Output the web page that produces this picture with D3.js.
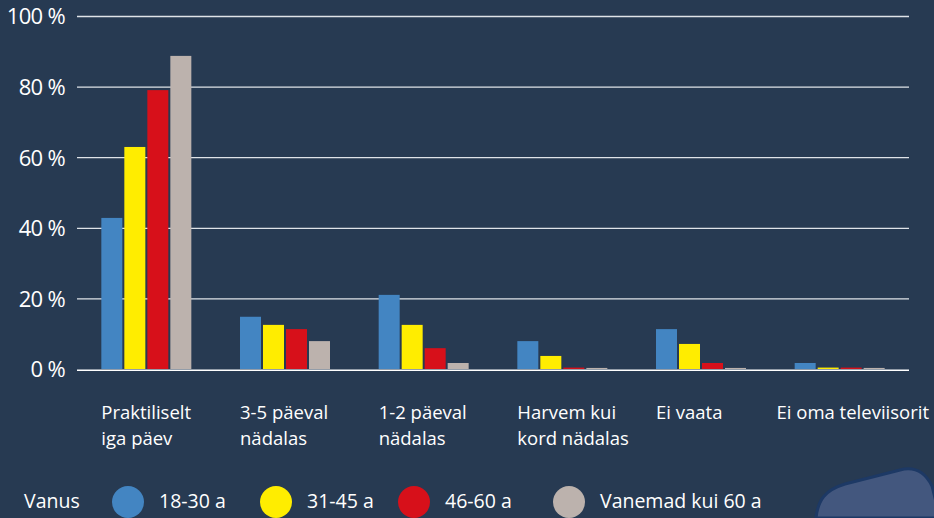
<!DOCTYPE html>
<html><head><meta charset="utf-8">
<script src="https://cdn.jsdelivr.net/npm/d3@7"></script>
<style>
html,body{margin:0;padding:0;background:#273a52;}
svg{display:block;}
text{font-family:"Open Sans","DejaVu Sans",sans-serif;fill:#ffffff;}
</style></head>
<body>
<svg id="chart" width="934" height="518"></svg>
<script>
const categories = [["Praktiliselt","iga päev"],["3-5 päeval","nädalas"],["1-2 päeval","nädalas"],["Harvem kui","kord nädalas"],["Ei vaata"],["Ei oma televiisorit"]];
const seriesNames = ["18-30 a","31-45 a","46-60 a","Vanemad kui 60 a"];
const colors = ["#4385c2","#ffed00","#d7101a","#bcb2ad"];
const s1830 = [42.8, 14.8, 21.0, 7.9, 11.3, 1.7];
const s3145 = [62.9, 12.5, 12.5, 3.7, 7.1, 0.4];
const s4660 = [79.0, 11.3, 5.9, 0.4, 1.7, 0.4];
const s60 = [88.7, 7.9, 1.7, 0.3, 0.3, 0.3];
const seriesValues = [s1830, s3145, s4660, s60];
const yTicks = [0,20,40,60,80,100];
const legendTitle = "Vanus";

(function(){
const svg = d3.select("#chart");
const pL = 77, pR = 909, pT = 16, pB = 369;
const x = d3.scaleBand().domain(d3.range(categories.length)).range([pL, pR]).paddingInner(0).paddingOuter(0);
const y = d3.scaleLinear().domain([0,100]).range([pB, pT]);
const barW = 21, gap = 2;
const groupW = seriesNames.length*barW + (seriesNames.length-1)*gap;
const xs = d3.scaleBand().domain(d3.range(seriesNames.length)).range([0, groupW]).paddingInner(gap/(barW+gap));

// decorative shape
svg.append("path")
  .attr("d","M 816 518 C 818 500, 825 490, 845 484 L 900 470 C 915 466, 925 472, 932 486 L 940 518 Z")
  .attr("fill","#43577e").attr("stroke","#1d3965").attr("stroke-width",3);

// gridlines
const yAxis = d3.axisLeft(y).tickValues(yTicks).tickSize(-(pR-pL)).tickFormat(d => d + " %");
const gy = svg.append("g").attr("transform",`translate(${pL},0)`).call(yAxis);
gy.select(".domain").remove();
gy.selectAll(".tick line").attr("stroke", d => d===0 ? "#ffffff" : "#dfe3e8").attr("stroke-width", d => d===0 ? 1.6 : 1.3)
  .attr("transform", d => d===0 ? "translate(0,0.8)" : null);
gy.selectAll(".tick text").attr("x",-12).attr("dy","0.36em")
  .style("font-size","22px").style("letter-spacing","-0.7px").attr("fill","#ffffff");

// bars
seriesValues.forEach((vals, si) => {
  svg.append("g").selectAll("rect").data(vals).join("rect")
    .attr("x",(d,i)=> x(i) + (x.bandwidth()-groupW)/2 + xs(si))
    .attr("width", xs.bandwidth())
    .attr("y", d => y(d))
    .attr("height", d => y(0)-y(d))
    .attr("fill", colors[si]);
});

// x labels
const xl = svg.append("g");
categories.forEach((lines,i) => {
  let x0 = x(i) + (x.bandwidth()-groupW)/2;
  const t = xl.append("text").attr("y",419).style("font-size","18.5px");
  lines.forEach((ln,k)=> t.append("tspan").attr("dy", k===0?0:26).text(ln));
  const w = t.node().getComputedTextLength ? d3.max(t.selectAll("tspan").nodes(), n => n.getComputedTextLength()) : 0;
  if (x0 + w > 929) x0 = 929 - w;
  t.selectAll("tspan").attr("x", x0);
});

// legend
const lg = svg.append("g");
lg.append("text").attr("x",24).attr("y",508).style("font-size","19.5px").text(legendTitle);
const legX = [128, 276, 414, 569];
seriesNames.forEach((n,i)=>{
  lg.append("ellipse").attr("cx",legX[i]).attr("cy",502).attr("rx",16).attr("ry",16).attr("fill",colors[i]);
  lg.append("text").attr("x",legX[i]+31).attr("y",508).style("font-size","19.5px").text(n);
});
})();
</script>
</body></html>
